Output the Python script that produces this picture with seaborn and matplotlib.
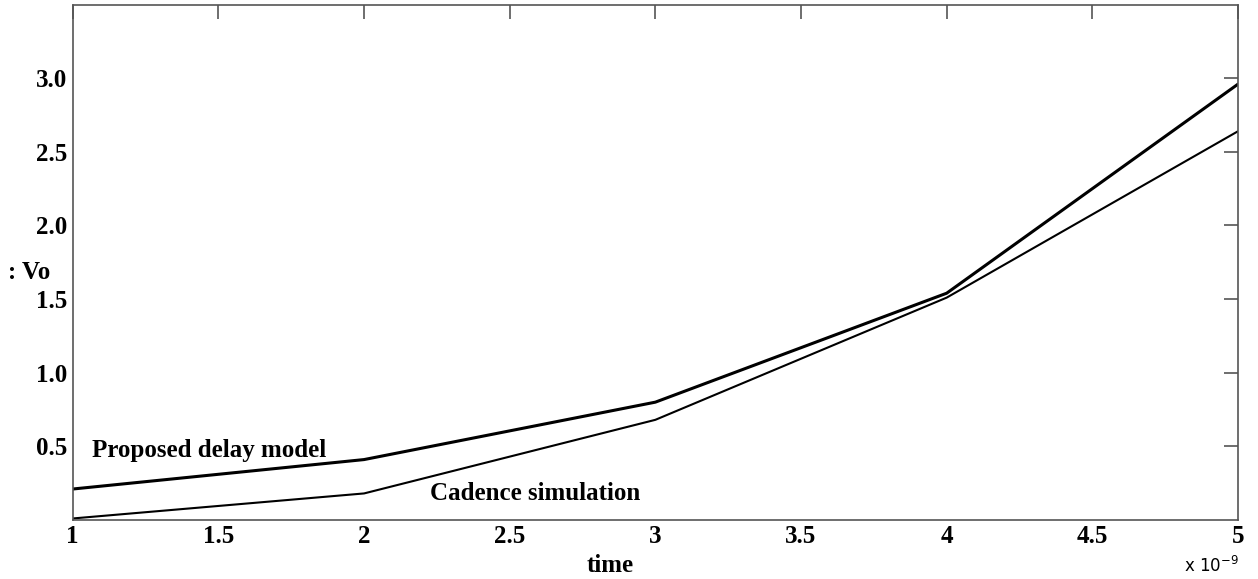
import pandas as pd
import seaborn as sns
import matplotlib.pyplot as plt

# time in units of 1e-9 s
time_ns = [1, 2, 3, 4, 5]
proposed_vo = [0.21, 0.41, 0.80, 1.54, 2.96]
cadence_vo = [0.01, 0.18, 0.68, 1.51, 2.64]

x_ticks = [1, 1.5, 2, 2.5, 3, 3.5, 4, 4.5, 5]
y_ticks = [0.5, 1.0, 1.5, 2.0, 2.5, 3.0]


def build_frame():
    df = pd.DataFrame({
        "time": time_ns * 2,
        "Vo": proposed_vo + cadence_vo,
        "model": ["Proposed delay model"] * len(time_ns) + ["Cadence simulation"] * len(time_ns),
    })
    return df


def plot_vo(df):
    sns.set_style("white")
    plt.rcParams["font.family"] = ["Liberation Serif", "DejaVu Serif"]
    plt.rcParams["text.color"] = "black"
    plt.rcParams["xtick.color"] = "black"
    plt.rcParams["ytick.color"] = "black"
    plt.rcParams["axes.labelcolor"] = "black"

    fig = plt.figure(figsize=(12.58, 5.79), dpi=100)
    ax = fig.add_axes([0.0578, 0.102, 0.9263, 0.890])

    sns.lineplot(data=df, x="time", y="Vo", hue="model", size="model",
                 palette={"Proposed delay model": "black", "Cadence simulation": "black"},
                 sizes={"Proposed delay model": 2.2, "Cadence simulation": 1.5},
                 legend=False, ax=ax)

    ax.set_xlim(1, 5)
    ax.set_ylim(0, 3.5)
    ax.set_xticks(x_ticks)
    ax.set_xticklabels([f"{t:g}" for t in x_ticks])
    ax.set_yticks(y_ticks)
    ax.set_yticklabels([f"{t:.1f}" for t in y_ticks])
    ax.tick_params(direction="in", length=10, width=1.2, color="#555555",
                   top=True, right=True, labelsize=18, pad=4)
    for lab in ax.get_xticklabels() + ax.get_yticklabels():
        lab.set_fontweight("bold")
    for sp in ax.spines.values():
        sp.set_color("#555555")
        sp.set_linewidth(1.2)

    ax.set_xlabel("")
    ax.set_ylabel("")
    fig.text(0.485, 0.023, "time", fontsize=18, fontweight="bold", ha="center", va="center")
    fig.text(0.006, 0.53, ": Vo", fontsize=18, fontweight="bold", va="center", ha="left")

    ax.text(1.065, 0.47, "Proposed delay model", fontsize=18, fontweight="bold", va="center")
    ax.text(2.227, 0.18, "Cadence simulation", fontsize=18, fontweight="bold", va="center")

    fig.text(0.985, 0.006, r"x 10$^{\mathsf{-9}}$", fontsize=12, ha="right", va="bottom",
             family=["DejaVu Sans"])

    fig.savefig("out.png", dpi=100)


if __name__ == "__main__":
    plot_vo(build_frame())
